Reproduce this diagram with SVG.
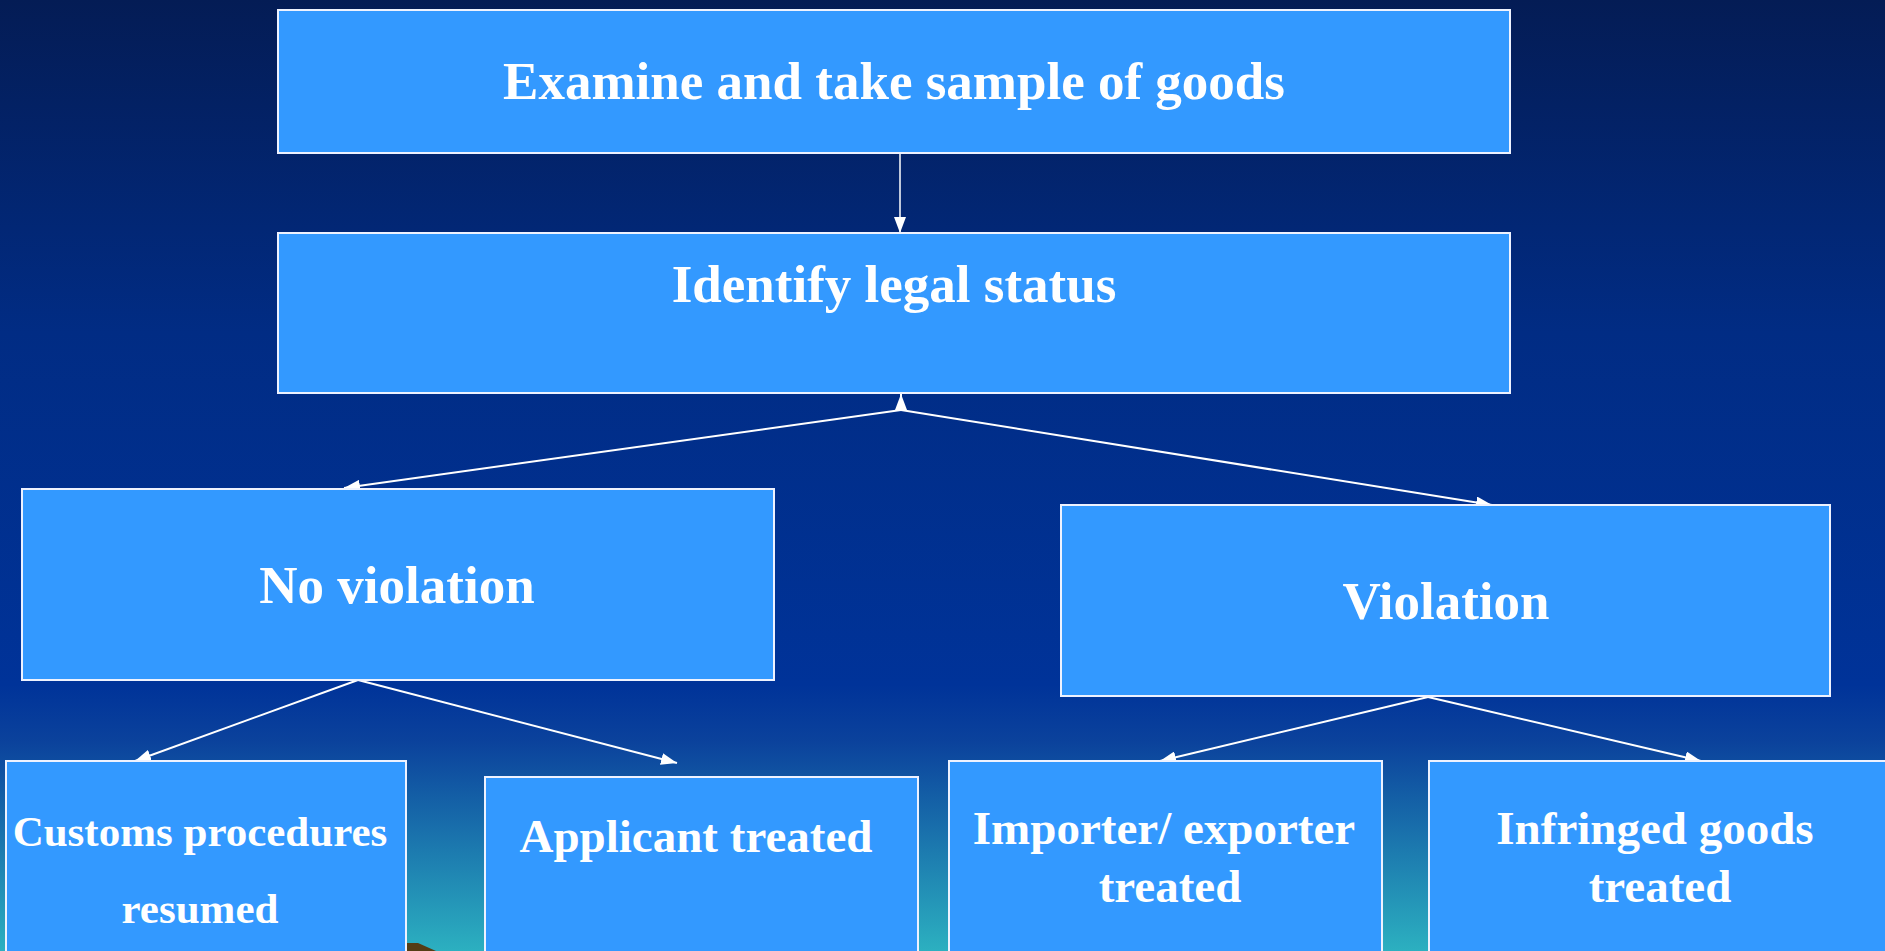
<svg xmlns="http://www.w3.org/2000/svg" width="1885" height="951" viewBox="0 0 1885 951">
<defs>
<linearGradient id="bg" x1="0" y1="0" x2="0" y2="951" gradientUnits="userSpaceOnUse">
<stop offset="0" stop-color="#041c55"/>
<stop offset="0.35" stop-color="#012c84"/>
<stop offset="0.72" stop-color="#003399"/>
<stop offset="0.78" stop-color="#0b429c"/>
<stop offset="0.9" stop-color="#1d7db0"/>
<stop offset="1" stop-color="#2cb0c0"/>
</linearGradient>
<marker id="arr" viewBox="0 0 16 12" refX="16" refY="6" markerWidth="16" markerHeight="12" markerUnits="userSpaceOnUse" orient="auto">
<path d="M0,0 L16,6 L0,12 Z" fill="#ffffff"/>
</marker>
<style>
.box{fill:#3399ff;stroke:#eef2ff;stroke-width:2}
.lbl{font-family:"Liberation Serif","Times New Roman",serif;font-weight:bold;fill:#ffffff;text-anchor:middle}
.big{font-size:53px}
.mid{font-size:47px}
.sm{font-size:43px}
.con{fill:none;stroke:#ffffff;stroke-width:2;marker-end:url(#arr)}
</style>
</defs>
<rect x="0" y="0" width="1885" height="951" fill="url(#bg)"/>
<polygon points="406,943 418,943 436,951 406,951" fill="#553d14"/>
<g id="connectors">
<path class="con" d="M900,153 L900,233" style="stroke-width:1.5"/>
<path class="con" d="M901,410 L901,394"/>
<path class="con" d="M901,410 L344,488"/>
<path class="con" d="M901,410 L1492,505"/>
<path class="con" d="M358,680 L135,761"/>
<path class="con" d="M358,680 L677,763"/>
<path class="con" d="M1428,697 L1160,761"/>
<path class="con" d="M1428,697 L1701,761"/>
</g>
<g id="n-examine">
<rect class="box" x="278" y="10" width="1232" height="143"/>
<text class="lbl big" x="894" y="99">Examine and take sample of goods</text>
</g>
<g id="n-identify">
<rect class="box" x="278" y="233" width="1232" height="160"/>
<text class="lbl big" x="894" y="302">Identify legal status</text>
</g>
<g id="n-noviolation">
<rect class="box" x="22" y="489" width="752" height="191"/>
<text class="lbl big" x="397" y="603">No violation</text>
</g>
<g id="n-violation">
<rect class="box" x="1061" y="505" width="769" height="191"/>
<text class="lbl big" x="1446" y="619">Violation</text>
</g>
<g id="n-customs">
<rect class="box" x="6" y="761" width="400" height="210"/>
<text class="lbl sm" x="200" y="846">Customs procedures</text>
<text class="lbl sm" x="200" y="923">resumed</text>
</g>
<g id="n-applicant">
<rect class="box" x="485" y="777" width="433" height="200"/>
<text class="lbl mid" x="696" y="852">Applicant treated</text>
</g>
<g id="n-importer">
<rect class="box" x="949" y="761" width="433" height="210"/>
<text class="lbl mid" x="1164" y="844">Importer/ exporter</text>
<text class="lbl mid" x="1170" y="902">treated</text>
</g>
<g id="n-infringed">
<rect class="box" x="1429" y="761" width="480" height="210"/>
<text class="lbl mid" x="1655" y="844">Infringed goods</text>
<text class="lbl mid" x="1660" y="902">treated</text>
</g>
</svg>
